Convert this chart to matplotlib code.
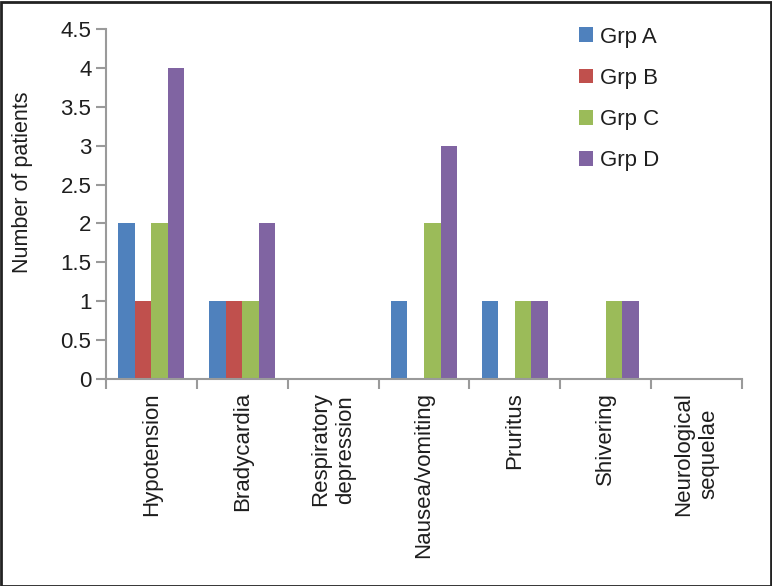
import matplotlib
matplotlib.use("Agg")
import matplotlib.pyplot as plt
import numpy as np
from matplotlib.patches import Rectangle
from matplotlib.ticker import FixedLocator, FuncFormatter

plt.rcParams['font.family'] = ['Liberation Sans', 'DejaVu Sans']

categories = ["Hypotension", "Bradycardia", "Respiratory\ndepression", "Nausea/vomiting",
              "Pruritus", "Shivering", "Neurological\nsequelae"]
groups = ["Grp A", "Grp B", "Grp C", "Grp D"]
grp_a = [2, 1, 0, 1, 1, 0, 0]
grp_b = [1, 1, 0, 0, 0, 0, 0]
grp_c = [2, 1, 0, 2, 1, 1, 0]
grp_d = [4, 2, 0, 3, 1, 1, 0]
yticks = [0, 0.5, 1, 1.5, 2, 2.5, 3, 3.5, 4, 4.5]
colors = ["#4F81BD", "#C0504D", "#9BBB59", "#8064A2"]

W, H = 772, 586
FS = 16
TXT = "#1e1e1e"
fig = plt.figure(figsize=(W / 100, H / 100), dpi=100)
ax = fig.add_axes([106 / W, 1 - 379 / H, (742 - 106) / W, (379 - 29) / H])

series = [grp_a, grp_b, grp_c, grp_d]
n = len(categories)
x = np.arange(n)
bw = 1 / 5.5
for i, (vals, c, lab) in enumerate(zip(series, colors, groups)):
    ax.bar(x + (i - 1.5) * bw, vals, width=bw, color=c, label=lab, linewidth=0)

ax.set_xlim(-0.5, n - 0.5)
ax.set_ylim(0, 4.5)
ax.set_yticks(yticks)
ax.yaxis.set_major_formatter(FuncFormatter(lambda v, p: f"{v:g}"))

ax.set_xticks(x)
ax.set_xticklabels(categories, rotation=90, va="top", ha="center", multialignment="center",
                   linespacing=1.25)
ax.xaxis.set_minor_locator(FixedLocator(np.arange(-0.5, n, 1)))
ax.tick_params(axis="x", which="major", length=0, pad=9.5, labelsize=FS, colors=TXT)
ax.tick_params(axis="x", which="minor", length=7, width=1.5, color="#9a9a9a")
ax.tick_params(axis="y", length=7, width=1.5, color="#9a9a9a", labelsize=FS, labelcolor=TXT, pad=3.5)

for s in ["top", "right"]:
    ax.spines[s].set_visible(False)
for s in ["left", "bottom"]:
    ax.spines[s].set_color("#9a9a9a")
    ax.spines[s].set_linewidth(1.5)

ax.set_ylabel("Number of patients", fontsize=15.5, color=TXT)
ax.yaxis.set_label_coords(33 / W, 1 - 182 / H, transform=fig.transFigure)

leg = ax.legend(loc="upper left", bbox_to_anchor=(563 / W, 1 - 11 / H), bbox_transform=fig.transFigure,
                frameon=False, fontsize=FS, handlelength=0.65, handleheight=0.65,
                labelspacing=0.91, handletextpad=0.3, borderpad=0.2)
for t in leg.get_texts():
    t.set_color(TXT)

fig.patches.append(Rectangle((0.5 / W, 0.5 / H), 1 - 2 / W, 1 - 2 / H, transform=fig.transFigure,
                             fill=False, edgecolor="#222222", linewidth=2))

fig.savefig("out.png", dpi=100)
